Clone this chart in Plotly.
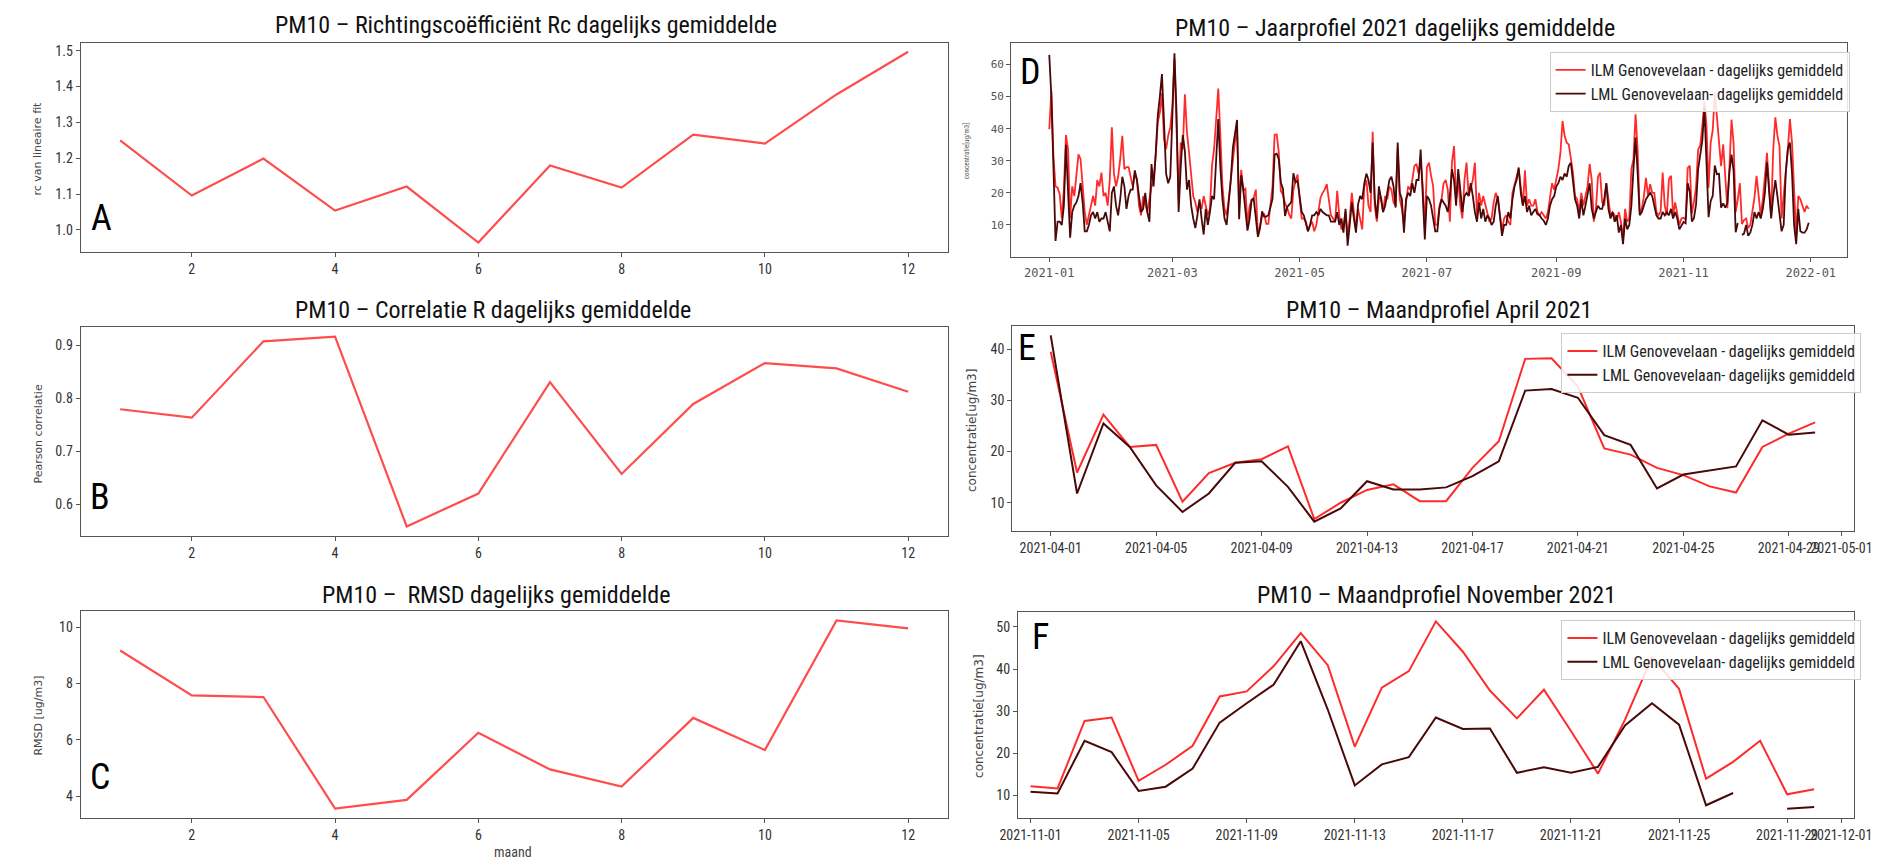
import pandas as pd
import plotly.graph_objects as go

W, H = 1901, 860

# ---------------- data ----------------
months = list(range(1, 13))
rc_values = [1.25, 1.096, 1.199, 1.054, 1.121, 0.965, 1.18, 1.118, 1.266, 1.241, 1.378, 1.497]
pearson_values = [0.779, 0.763, 0.907, 0.916, 0.558, 0.620, 0.830, 0.657, 0.789, 0.866, 0.856, 0.812]
rmsd_values = [9.17, 7.58, 7.52, 3.56, 3.87, 6.25, 4.95, 4.34, 6.78, 5.64, 10.24, 9.96]

# April 2021 (daily)
ilm_april = [39.5, 15.9, 27.2, 20.9, 21.3, 10.2, 15.8, 17.8, 18.5, 21.0,
             6.8, 10.0, 12.5, 13.6, 10.3, 10.3, 16.8, 22.0, 38.1, 38.2,
             32.7, 20.6, 19.4, 16.8, 15.4, 13.2, 12.0, 20.9, 23.5, 25.7]
lml_april = [42.7, 11.8, 25.5, 20.9, 13.4, 8.2, 11.8, 17.8, 18.1, 13.1,
             6.3, 8.9, 14.2, 12.6, 12.6, 13.0, 15.2, 18.1, 31.9, 32.2,
             30.5, 23.2, 21.3, 12.8, 15.5, 16.3, 17.1, 26.1, 23.3, 23.7]

# November 2021 (daily)
ilm_november = [12.2, 11.7, 27.7, 28.5, 13.5, 17.3, 21.8, 33.5, 34.7, 40.7,
                48.5, 40.9, 21.6, 35.6, 39.5, 51.3, 44.1, 34.9, 28.3, 35.1,
                25.3, 15.2, 28.0, 42.8, 35.3, 14.0, 18.0, 23.0, 10.3, 11.5]
lml_november = [10.9, 10.5, 23.0, 20.3, 11.1, 12.1, 16.4, 27.3, 31.9, 36.3,
                46.6, 30.4, 12.4, 17.4, 19.1, 28.5, 25.8, 25.9, 15.4, 16.7,
                15.4, 16.8, 26.6, 31.9, 26.8, 7.7, 10.6, None, 6.9, 7.3]

# Year 2021 pieces (daily)
ilm_jan_mar = [39.8, 51.8, 31.5, 22, 21.6, 19.6, 12, 21, 38, 33.6,
               12, 22, 19, 26, 32, 30.5, 23, 14, 10, 13.4,
               16, 19, 16, 24, 22, 26.3, 19, 20, 16, 24,
               40.4, 26, 22, 25, 30.5, 37.8, 27.4, 28, 28, 25,
               22, 25.8, 24.3, 16, 13, 19, 16, 14, 18, 22,
               24, 31.5, 42, 45, 51, 36.7, 33.6, 37.8, 40.4, 47,
               61.7, 36.7, 18, 35.7, 33.6, 50.7, 38.8, 32.5, 24.3, 19,
               17, 14, 17, 15, 19, 16, 13, 15, 28.4, 33.6,
               43, 52.5, 38, 22, 15, 13, 18, 24, 30, 36]
lml_jan_mar = [63, 50, 28, 5, 11, 11, 10, 16, 35, 22,
               6, 14, 16, 17, 19, 23, 17, 8, 8, 10,
               13, 14, 12, 14, 11, 12, 12, 14, 11, 8,
               20, 22, 16, 13, 18, 25, 22, 15, 19, 21,
               21, 27, 24, 19, 14, 15, 20, 14, 11, 29,
               22, 32, 44, 50, 57, 42, 26, 23, 25, 44,
               63.5, 45, 14, 28, 38, 33, 21, 24, 16, 12,
               9, 13, 18, 12, 7, 15, 10, 14, 19, 18,
               30, 43, 28, 18, 12, 10, 17, 24, 34, 38]
ilm_may_oct = [18, 12, 12, 11, 8, 10, 11, 8, 10, 14,
               18.5, 20, 21, 22.7, 18.5, 13, 12, 11, 20.6, 13,
               8.6, 10, 14, 6.6, 12, 20, 14, 8.6, 15, 12,
               8.6, 22, 24, 16, 14, 39, 16, 11, 18, 19,
               14, 19, 18, 22, 21, 17, 16, 33.6, 18, 15,
               10, 17, 22, 21, 24, 28.4, 29, 26, 30, 22,
               9, 28, 29.4, 25.3, 22, 10, 10, 16, 18, 23,
               24, 21, 11, 29.4, 34.6, 18, 24, 16, 12, 24,
               29.4, 19, 22, 24, 29.4, 13, 20, 16, 19, 16,
               14, 11, 12, 17, 20, 18, 13, 8.6, 12, 13,
               11, 10, 20, 23, 25, 27.4, 21, 16, 27, 16,
               18, 16, 16, 18, 14, 13, 14, 13, 12, 14,
               18, 23, 21, 24, 27.4, 32.5, 42.4, 37.8, 35.7, 35,
               30.5, 26.3, 19, 18, 14, 20, 16, 19, 22, 29,
               24, 11, 15, 25, 26.3, 17, 16, 23, 17, 13,
               14, 13, 11.3, 14, 11, 5.5, 15, 11, 12, 27.4,
               30.5, 44.5, 33.6, 14, 15, 19, 24.7, 19, 22.7, 20,
               20, 14, 13, 14, 26.3, 16, 13, 24.3, 25.3, 13,
               17, 13, 10, 12]
lml_may_oct = [19, 14, 13, 10, 8, 10, 13, 13, 14, 13,
               15, 14, 13.6, 13, 13, 11, 11, 11, 14, 10,
               12, 7.6, 15, 3.5, 10, 17, 12, 7.6, 16.4, 19,
               18, 23, 26, 24, 20, 35.7, 18, 12, 22, 18,
               14, 16, 20, 24, 25, 22, 15.4, 35.7, 20, 18,
               7.6, 18, 20, 19, 23, 20, 24, 24, 33.5, 20,
               5.5, 19, 18, 16, 12, 8, 8, 15, 18, 17,
               16, 14, 19, 27.4, 24, 16, 27.4, 21, 14, 19,
               20, 19, 23, 19, 14, 11, 17, 12, 15, 11,
               13, 12, 10, 11, 16, 19, 12, 6.6, 10, 10,
               14, 12, 18, 22, 24, 27.9, 20, 16, 19, 14,
               16, 13, 14, 15, 13.3, 13, 12, 11.3, 10, 12,
               16, 18, 19, 22, 23, 25, 24, 26, 25, 28.4,
               29.4, 24, 18, 16, 12, 18, 13, 16, 19, 23,
               15, 12, 14, 16, 15, 15, 18, 23, 15, 12,
               14, 11, 13, 7.6, 10, 4, 12, 8.6, 10, 16,
               27.4, 37.2, 26.3, 13, 14, 16, 18, 19, 20, 19,
               16, 13, 12, 12, 14, 13, 14, 13, 15, 12,
               14, 12, 8.6, 10]
ilm_dec = [12, 9, 10, 14, 18.5, 25.3, 19, 13, 18, 25.3,
           32.5, 22, 13, 33.6, 43.5, 37.8, 34.6, 12, 19, 26.3,
           33.6, 43, 35.7, 21, 7, 19, 18, 16, 14, 16, 15]
lml_dec = [10, 6.6, 7.6, 10, 14, 12, 14, 12, 15, 20,
           29.5, 20, 12, 19, 24, 19, 14, 8, 10, 26.3,
           33.6, 35.7, 26.3, 10, 4, 15, 8, 7.6, 7.6, 8.6, 10.7]

ilm_year = ilm_jan_mar + ilm_april + ilm_may_oct + ilm_november + ilm_dec
lml_year = lml_jan_mar + lml_april + lml_may_oct + lml_november + lml_dec

dates_year = pd.date_range("2021-01-01", "2021-12-31", freq="D")
dates_april = pd.date_range("2021-04-01", "2021-04-30", freq="D")
dates_nov = pd.date_range("2021-11-01", "2021-11-30", freq="D")

year_ticks = ["2021-01-01", "2021-03-01", "2021-05-01", "2021-07-01",
              "2021-09-01", "2021-11-01", "2022-01-01"]
year_ticktext = ["2021-01", "2021-03", "2021-05", "2021-07", "2021-09", "2021-11", "2022-01"]
april_ticks = ["2021-04-01", "2021-04-05", "2021-04-09", "2021-04-13", "2021-04-17",
               "2021-04-21", "2021-04-25", "2021-04-29", "2021-05-01"]
nov_ticks = ["2021-11-01", "2021-11-05", "2021-11-09", "2021-11-13", "2021-11-17",
             "2021-11-21", "2021-11-25", "2021-11-29", "2021-12-01"]

name_ilm = "ILM Genovevelaan - dagelijks gemiddeld"
name_lml = "LML Genovevelaan- dagelijks gemiddeld"

# ---------------- style ----------------
RED_SOFT = "#ff4d4d"
RED = "#ff2b2b"
DARK = "#4a0808"
NARROW = "Liberation Sans Narrow, Roboto Condensed, Roboto, sans-serif"
WIDE = "DejaVu Sans, Verdana, sans-serif"
MONO = "DejaVu Sans Mono, monospace"


def xd(a, b):
    return [a / W, b / W]


def yd(top, bottom):
    return [1 - bottom / H, 1 - top / H]


fig = go.Figure()

# A, B, C
for vals, ax in [(rc_values, ""), (pearson_values, "2"), (rmsd_values, "3")]:
    fig.add_trace(go.Scatter(x=months, y=vals, mode="lines", line=dict(color=RED_SOFT, width=2.2),
                             xaxis="x" + ax, yaxis="y" + ax, showlegend=False))

# D
fig.add_trace(go.Scatter(x=dates_year, y=ilm_year, mode="lines", name=name_ilm,
                         line=dict(color=RED, width=1.8), xaxis="x4", yaxis="y4", legend="legend"))
fig.add_trace(go.Scatter(x=dates_year, y=lml_year, mode="lines", name=name_lml,
                         line=dict(color=DARK, width=1.8), xaxis="x4", yaxis="y4", legend="legend"))
# E
fig.add_trace(go.Scatter(x=dates_april, y=ilm_april, mode="lines", name=name_ilm,
                         line=dict(color=RED, width=2), xaxis="x5", yaxis="y5", legend="legend2"))
fig.add_trace(go.Scatter(x=dates_april, y=lml_april, mode="lines", name=name_lml,
                         line=dict(color=DARK, width=2), xaxis="x5", yaxis="y5", legend="legend2"))
# F
fig.add_trace(go.Scatter(x=dates_nov, y=ilm_november, mode="lines", name=name_ilm,
                         line=dict(color=RED, width=2), xaxis="x6", yaxis="y6", legend="legend3"))
fig.add_trace(go.Scatter(x=dates_nov, y=lml_november, mode="lines", name=name_lml,
                         line=dict(color=DARK, width=2), xaxis="x6", yaxis="y6", legend="legend3"))

axis_common = dict(showline=True, mirror=True, linecolor="#555", linewidth=1.3,
                   ticks="outside", ticklen=4, tickcolor="#555", showgrid=False, zeroline=False)
tick_narrow = dict(family=NARROW, size=14, color="#333")
tick_mono = dict(family=MONO, size=12, color="#555")

layout = dict(
    width=W, height=H, margin=dict(l=0, r=0, t=0, b=0),
    paper_bgcolor="white", plot_bgcolor="white",
    # A
    xaxis=dict(domain=xd(64, 948), anchor="y", range=[0.45, 12.55], tickvals=[2, 4, 6, 8, 10, 12],
               tickfont=tick_narrow, **axis_common),
    yaxis=dict(domain=yd(43, 252), anchor="x", range=[0.9385, 1.5215], tickvals=[1.0, 1.1, 1.2, 1.3, 1.4, 1.5],
               tickformat=".1f", tickfont=tick_narrow, **axis_common),
    # B
    xaxis2=dict(domain=xd(64, 948), anchor="y2", range=[0.45, 12.55], tickvals=[2, 4, 6, 8, 10, 12],
                tickfont=tick_narrow, **axis_common),
    yaxis2=dict(domain=yd(327, 536), anchor="x2", range=[0.540, 0.934], tickvals=[0.6, 0.7, 0.8, 0.9],
                tickformat=".1f", tickfont=tick_narrow, **axis_common),
    # C
    xaxis3=dict(domain=xd(64, 948), anchor="y3", range=[0.45, 12.55], tickvals=[2, 4, 6, 8, 10, 12],
                tickfont=tick_narrow, **axis_common),
    yaxis3=dict(domain=yd(611, 818), anchor="x3", range=[3.226, 10.574], tickvals=[4, 6, 8, 10],
                tickfont=tick_narrow, **axis_common),
    # D
    xaxis4=dict(domain=xd(1013, 1865), anchor="y4", type="date",
                range=["2020-12-13 19:00", "2022-01-18 05:00"], tickvals=year_ticks, ticktext=year_ticktext,
                tickfont=tick_mono, **axis_common),
    yaxis4=dict(domain=yd(43, 257), anchor="x4", range=[0.0, 66.7], tickvals=[10, 20, 30, 40, 50, 60],
                tickfont=dict(family=MONO, size=11, color="#555"), **axis_common),
    # E
    xaxis5=dict(domain=xd(1014, 1872), anchor="y5", type="date",
                range=["2021-03-30 13:00", "2021-05-01 11:00"], tickvals=april_ticks, ticktext=april_ticks,
                tickangle=0, tickfont=tick_narrow, **axis_common),
    yaxis5=dict(domain=yd(326, 531), anchor="x5", range=[4.48, 44.52], tickvals=[10, 20, 30, 40],
                tickfont=tick_narrow, **axis_common),
    # F
    xaxis6=dict(domain=xd(1020, 1872), anchor="y6", type="date",
                range=["2021-10-31 13:00", "2021-12-01 11:00"], tickvals=nov_ticks, ticktext=nov_ticks,
                tickangle=0, tickfont=tick_narrow, **axis_common),
    yaxis6=dict(domain=yd(612, 818), anchor="x6", range=[4.68, 53.52], tickvals=[10, 20, 30, 40, 50],
                tickfont=tick_narrow, **axis_common),
)

legend_common = dict(xref="paper", yref="paper", xanchor="right", yanchor="top",
                     bgcolor="rgba(255,255,255,0.85)", bordercolor="#cccccc", borderwidth=1,
                     font=dict(family=NARROW, size=16, color="#222"), itemwidth=30, tracegroupgap=0)
layout["legend"] = dict(x=1868 / W, y=1 - 52 / H, **legend_common)
layout["legend2"] = dict(x=1880 / W, y=1 - 333 / H, **legend_common)
layout["legend3"] = dict(x=1880 / W, y=1 - 620 / H, **legend_common)

fig.update_layout(**layout)

annotations = []


def ann(text, x, y, size, family=NARROW, color="#111", angle=0):
    annotations.append(dict(text=text, x=x / W, y=1 - y / H, xref="paper", yref="paper",
                            xanchor="center", yanchor="middle", showarrow=False, textangle=angle,
                            font=dict(family=family, size=size, color=color)))


# titles
ann("PM10 \u2013 Richtingscoëfficiënt Rc dagelijks gemiddelde", 518, 25, 24)
ann("PM10 \u2013 Correlatie R dagelijks gemiddelde", 484, 310, 24)
ann("PM10 \u2013  RMSD dagelijks gemiddelde", 487, 595, 24)
ann("PM10 \u2013 Jaarprofiel 2021 dagelijks gemiddelde", 1404, 28, 24)
ann("PM10 \u2013 Maandprofiel April 2021", 1449, 310, 24)
ann("PM10 \u2013 Maandprofiel November 2021", 1447, 595, 24)

# panel letters
ann("A", 85, 218, 36, color="#000")
ann("B", 84, 497, 36, color="#000")
ann("C", 84, 777, 36, color="#000")
ann("D", 1033, 72, 36, color="#000")
ann("E", 1029, 348, 36, color="#000")
ann("F", 1043, 637, 36, color="#000")

# axis labels
ann("rc van lineaire fit", 20, 149, 11, family=WIDE, color="#444", angle=-90)
ann("Pearson correlatie", 20, 434, 11, family=WIDE, color="#444", angle=-90)
ann("RMSD [ug/m3]", 20, 716, 11, family=WIDE, color="#444", angle=-90)
ann("maand", 505, 852, 14, color="#444")
ann("concentratie[ug/m3]", 967, 151, 7, family=NARROW, color="#555", angle=-90)
ann("concentratie[ug/m3]", 973, 430, 12, family=WIDE, color="#444", angle=-90)
ann("concentratie[ug/m3]", 980, 716, 12, family=WIDE, color="#444", angle=-90)

fig.update_layout(annotations=annotations)

fig.write_html("out.html")
